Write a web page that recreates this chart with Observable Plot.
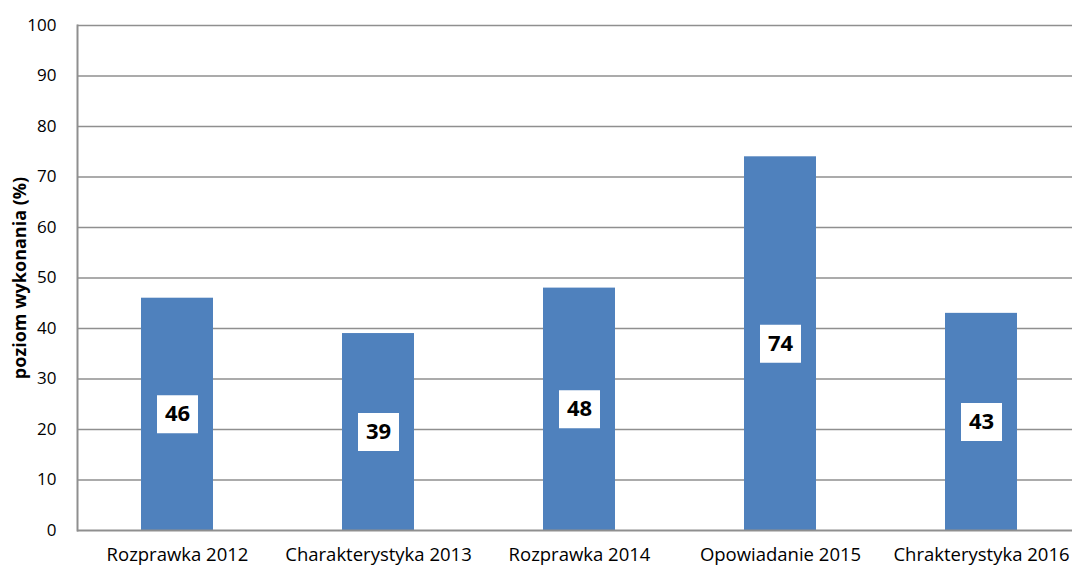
<!DOCTYPE html>
<html>
<head>
<meta charset="utf-8">
<script src="https://cdn.jsdelivr.net/npm/d3@7"></script>
<script src="https://cdn.jsdelivr.net/npm/@observablehq/plot@0.6"></script>
<style>
  html, body { margin: 0; padding: 0; background: #fff; }
  #chart svg { display: block; }
</style>
</head>
<body>
<div id="chart"></div>
<script>
const categories = ["Rozprawka 2012", "Charakterystyka 2013", "Rozprawka 2014", "Opowiadanie 2015", "Chrakterystyka 2016"];
const values = [46, 39, 48, 74, 43];
const yTicks = [0, 10, 20, 30, 40, 50, 60, 70, 80, 90, 100];
const yLabel = "poziom wykonania (%)";

const data = categories.map((c, i) => ({category: c, value: values[i]}));

const boxSymbol = {
  draw(context) {
    context.rect(-20.5, -19, 41, 38);
  }
};

const chart = Plot.plot({
  width: 1072,
  height: 567,
  marginLeft: 77,
  marginRight: 0,
  marginTop: 25,
  marginBottom: 37,
  style: {fontFamily: "'Open Sans', Lato, sans-serif", fontSize: "17px", color: "#000", background: "#fff"},
  x: {domain: categories, range: [77, 1082], paddingInner: 0.64, paddingOuter: 0.32, label: null},
  y: {domain: [0, 100], label: null},
  marks: [
    Plot.ruleY(yTicks.filter(d => d > 0), {stroke: "#8f8f8f", strokeWidth: 1.5}),
    Plot.barY(data, {x: "category", y: "value", fill: "#4F81BD"}),
    Plot.ruleY([0], {stroke: "#8f8f8f", strokeWidth: 2}),
    Plot.frame({anchor: "left", stroke: "#8f8f8f", strokeWidth: 2}),
    Plot.dot(data, {x: "category", y: d => d.value / 2, symbol: boxSymbol, fill: "#fff", stroke: null, r: 1}),
    Plot.text(data, {x: "category", y: d => d.value / 2, text: d => String(d.value), fontWeight: "bold", fontSize: 22, fill: "#000", dy: 0}),
    Plot.axisY({ticks: yTicks, tickSize: 0, tickPadding: 21, fontSize: 17, label: null}),
    Plot.axisX({tickSize: 0, tickPadding: 17, fontSize: 18.5, label: null}),
    Plot.text([yLabel], {frameAnchor: "left", textAnchor: "middle", rotate: -90, dx: -57, fontWeight: "bold", fontSize: 18, fill: "#000"})
  ]
});

document.getElementById("chart").appendChild(chart);
</script>
</body>
</html>
